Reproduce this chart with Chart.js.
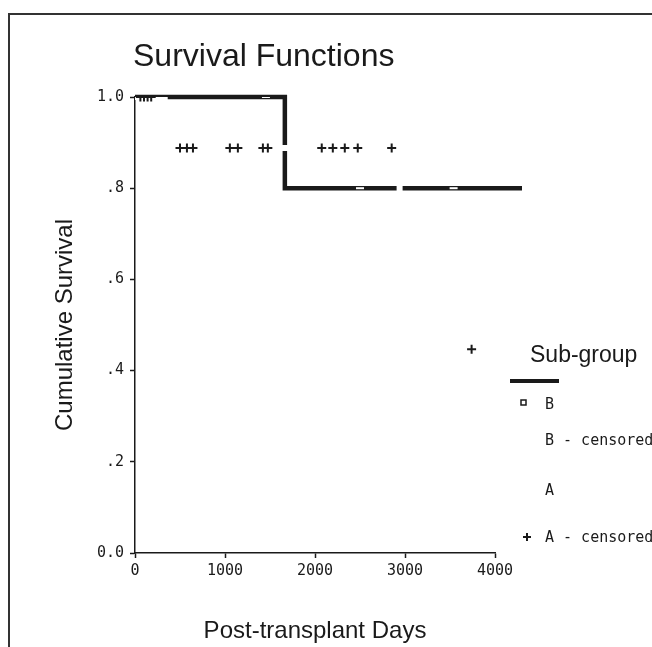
<!DOCTYPE html>
<html>
<head>
<meta charset="utf-8">
<script src="https://cdn.jsdelivr.net/npm/chart.js@4.4.1/dist/chart.umd.min.js"></script>
<style>
  html, body { margin: 0; padding: 0; background: #ffffff; }
  #wrap { position: relative; width: 652px; height: 647px; overflow: hidden; background: #ffffff; }
  #frame { position: absolute; left: 8px; top: 13px; width: 700px; height: 700px;
           border-left: 2px solid #333; border-top: 2px solid #333; }
  canvas { position: absolute; left: 0; top: 0; }
</style>
</head>
<body>
<div id="wrap">
  <div id="frame"></div>
  <canvas id="chart" width="652" height="647"></canvas>
</div>
<script>
// --- data ---
const xTicks = [0, 1000, 2000, 3000, 4000];
const yTicks = [0, 0.2, 0.4, 0.6, 0.8, 1.0];
const yTickLabels = ['0.0', '.2', '.4', '.6', '.8', '1.0'];

// sub-group B (the visible thick curve)
const bDays = [0, 1665, 4300];
const bSurv = [1.0, 0.80, 0.80];
const bCensDays = [1455, 2500, 3540];
const bCensSurv = [1.0, 0.80, 0.80];

// sub-group A (curve printed white, only its censor marks show)
const aDays = [0, 330, 2940, 3740];
const aSurv = [1.0, 0.888, 0.447, 0.447];
const aCensDays = [60, 100, 140, 180, 500, 577, 644, 1054, 1143, 1421, 1476,
                   2075, 2198, 2331, 2475, 2852, 3740];
const aCensSurv = [1.0, 1.0, 1.0, 1.0, 0.888, 0.888, 0.888, 0.888, 0.888, 0.888, 0.888,
                   0.888, 0.888, 0.888, 0.888, 0.888, 0.447];

const ink = '#1a1a1a';
const paper = '#ffffff';
const monoFont = '"DejaVu Sans Mono", monospace';
const sansFont = '"Liberation Sans", Arial, sans-serif';

const toPoints = (xs, ys) => xs.map((x, i) => ({ x, y: ys[i] }));

// title + legend drawn on the canvas
const labelsPlugin = {
  id: 'labels',
  afterDraw(chart) {
    const ctx = chart.ctx;
    ctx.save();
    ctx.fillStyle = ink;
    ctx.textBaseline = 'middle';
    ctx.textAlign = 'left';
    ctx.font = '32px ' + sansFont;
    ctx.fillText('Survival Functions', 133, 57);

    ctx.font = '23px ' + sansFont;
    ctx.fillText('Sub-group', 530, 356);

    // B line sample
    ctx.strokeStyle = ink;
    ctx.lineWidth = 4;
    ctx.beginPath();
    ctx.moveTo(510, 381);
    ctx.lineTo(559, 381);
    ctx.stroke();

    // square marker for B
    ctx.lineWidth = 1.5;
    ctx.strokeRect(521, 400, 5, 5);
    // cross for A - censored
    ctx.lineWidth = 2;
    ctx.beginPath();
    ctx.moveTo(523, 537); ctx.lineTo(531, 537);
    ctx.moveTo(527, 533); ctx.lineTo(527, 541);
    ctx.stroke();

    ctx.font = '15px ' + monoFont;
    chart.data.datasets.slice().sort((a, b) => a.legendRank - b.legendRank).forEach(ds => {
      ctx.fillText(ds.label, 545, ds.legendY);
    });
    ctx.restore();
  }
};

new Chart(document.getElementById('chart'), {
  type: 'line',
  data: {
    datasets: [
      {
        label: 'A - censored', legendRank: 4, legendY: 538,
        data: toPoints(aCensDays, aCensSurv),
        showLine: false, pointStyle: 'cross', pointRadius: 4.5,
        pointBorderWidth: 2, pointBorderColor: ink, order: 0
      },
      {
        label: 'B - censored', legendRank: 2, legendY: 441,
        data: toPoints(bCensDays, bCensSurv),
        showLine: false, pointStyle: 'line', pointRadius: 4,
        pointBorderWidth: 2, pointBorderColor: paper, order: 1
      },
      {
        label: 'A', legendRank: 3, legendY: 491,
        data: toPoints(aDays, aSurv),
        stepped: true, borderColor: paper, borderWidth: 6,
        pointRadius: 0, fill: false, order: 2
      },
      {
        label: 'B', legendRank: 1, legendY: 405,
        data: toPoints(bDays, bSurv),
        stepped: true, borderColor: ink, borderWidth: 4.5,
        pointRadius: 0, fill: false, clip: false, order: 3
      }
    ]
  },
  options: {
    responsive: false,
    animation: false,
    devicePixelRatio: 1,
    layout: { padding: { top: 97, right: 157, left: 0, bottom: 0 } },
    plugins: {
      legend: { display: false },
      tooltip: { enabled: false },
      title: { display: false }
    },
    scales: {
      x: {
        type: 'linear', min: 0, max: 4000,
        afterFit: s => { s.height = 94; },
        afterBuildTicks: s => { s.ticks = xTicks.map(v => ({ value: v })); },
        grid: { drawOnChartArea: false, drawTicks: true, tickLength: 5, color: ink, tickWidth: 1.5 },
        border: { display: true, color: ink, width: 1.5 },
        ticks: { color: ink, padding: 4, maxRotation: 0, font: { family: monoFont, size: 15 },
                 callback: v => String(v) },
        title: { display: true, text: 'Post-transplant Days', color: ink,
                 font: { family: sansFont, size: 24 }, padding: { top: 0, bottom: 1 } }
      },
      y: {
        type: 'linear', min: 0, max: 1,
        afterFit: s => { s.width = 135; },
        afterBuildTicks: s => { s.ticks = yTicks.map(v => ({ value: v })); },
        grid: { drawOnChartArea: false, drawTicks: true, tickLength: 5, color: ink, tickWidth: 1.5 },
        border: { display: true, color: ink, width: 1.5 },
        ticks: { color: ink, padding: 6, font: { family: monoFont, size: 15 },
                 callback: v => {
                   const i = yTicks.findIndex(t => Math.abs(t - v) < 1e-9);
                   return i >= 0 ? yTickLabels[i] : '';
                 } },
        title: { display: true, text: 'Cumulative Survival', color: ink,
                 font: { family: sansFont, size: 24 }, padding: { top: 51, bottom: 0 } }
      }
    }
  },
  plugins: [labelsPlugin]
});
</script>
</body>
</html>
